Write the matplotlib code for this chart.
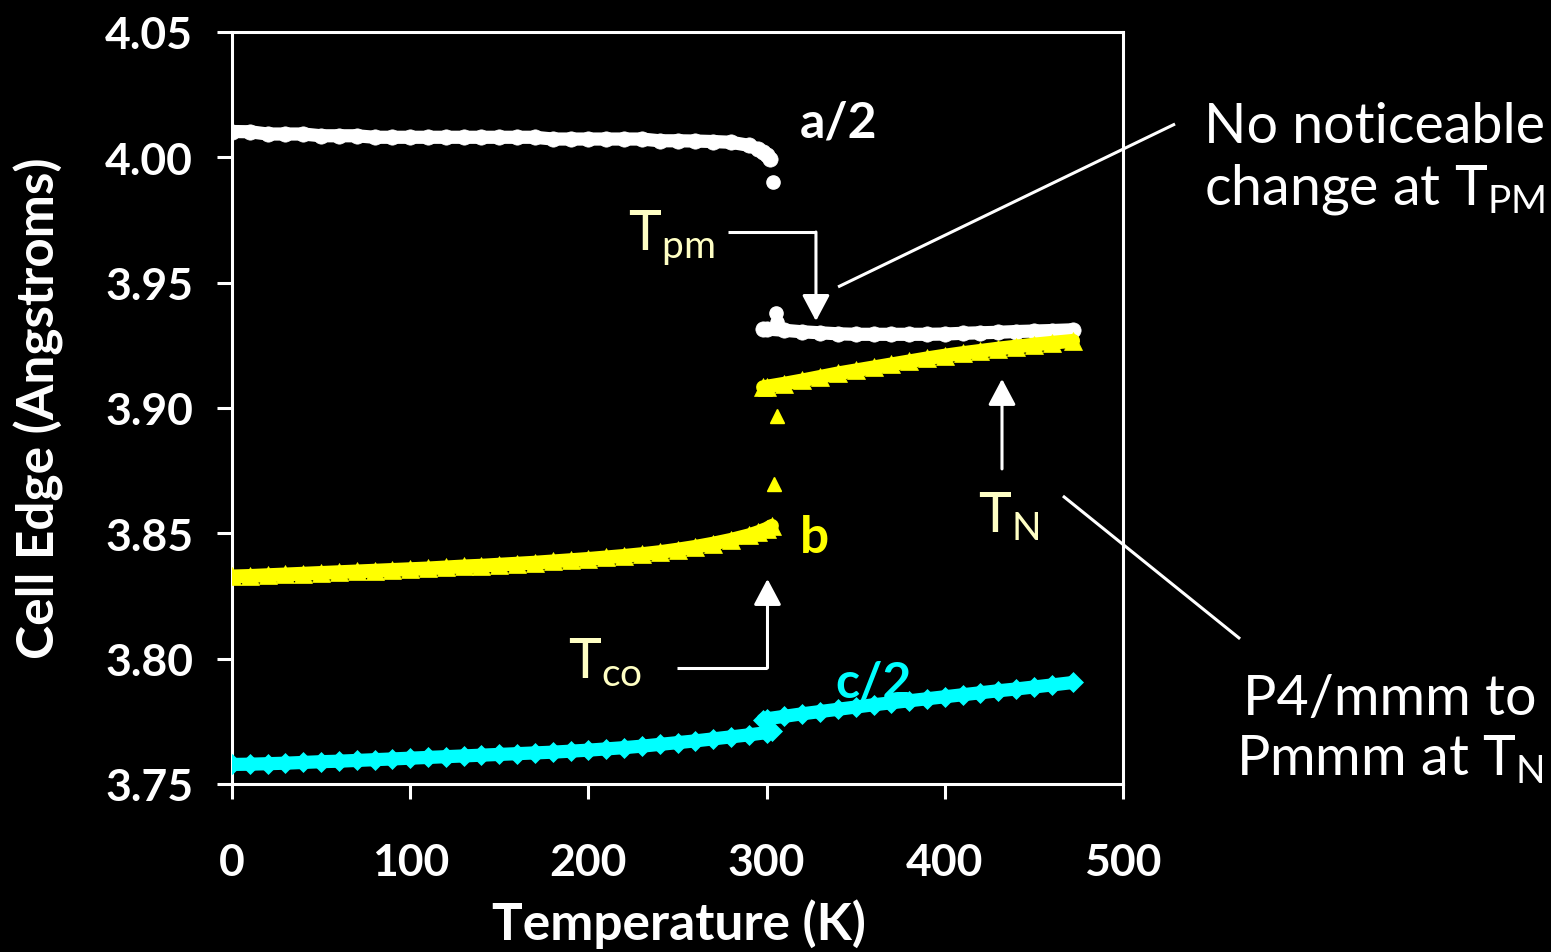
import matplotlib
matplotlib.use("Agg")
import matplotlib.pyplot as plt
import numpy as np

plt.rcParams['font.family'] = ['Lato', 'DejaVu Sans']
plt.rcParams['mathtext.fontset'] = 'custom'
plt.rcParams['mathtext.rm'] = 'Lato'
plt.rcParams['mathtext.default'] = 'regular'

# ---- lattice parameters vs temperature ----
# a/2, low-temperature phase
a_lo_T = [0, 10, 20, 30, 40, 50, 60, 70, 80, 90, 100, 110, 120, 130, 140, 150,
          160, 170, 180, 190, 200, 210, 220, 230, 240, 250, 260, 270, 280, 290,
          295, 298, 300, 302]
a_lo = [4.0103, 4.0102, 4.0093, 4.0093, 4.0093, 4.0086, 4.0086, 4.0086, 4.0080,
        4.0080, 4.0080, 4.0080, 4.0080, 4.0080, 4.0080, 4.0080, 4.0080, 4.0080,
        4.0073, 4.0073, 4.0073, 4.0073, 4.0073, 4.0073, 4.0066, 4.0066, 4.0065,
        4.0063, 4.0060, 4.0048, 4.0033, 4.0020, 4.0008, 3.9995]
# a/2, high-temperature phase
a_hi_T = [298, 300, 310, 320, 330, 340, 350, 360, 370, 380, 390, 400, 410, 420,
          430, 440, 450, 460, 472]
a_hi = [3.9315, 3.9315, 3.9310, 3.9304, 3.9300, 3.9296, 3.9294, 3.9294, 3.9294,
        3.9294, 3.9294, 3.9295, 3.9298, 3.9300, 3.9302, 3.9305, 3.9307, 3.9309,
        3.9312]
# isolated a/2 points in the transition region
a_tr_T = [303.5, 305.5, 306.0]
a_tr = [3.9903, 3.9378, 3.9345]

# b, low-temperature phase
b_lo_T = [0, 10, 20, 30, 40, 50, 60, 70, 80, 90, 100, 110, 120, 130, 140, 150,
          160, 170, 180, 190, 200, 210, 220, 230, 240, 250, 260, 270, 280, 290,
          295, 300, 303]
b_lo = [3.8328, 3.8330, 3.8333, 3.8336, 3.8339, 3.8342, 3.8345, 3.8348, 3.8351,
        3.8354, 3.8357, 3.8360, 3.8364, 3.8368, 3.8371, 3.8375, 3.8379, 3.8383,
        3.8388, 3.8393, 3.8398, 3.8404, 3.8410, 3.8417, 3.8425, 3.8435, 3.8446,
        3.8459, 3.8474, 3.8492, 3.8504, 3.8518, 3.8530]
# b, high-temperature phase
b_hi_T = [298, 300, 310, 320, 330, 340, 350, 360, 370, 380, 390, 400, 410, 420,
          430, 440, 450, 460, 472]
b_hi = [3.9083, 3.9085, 3.9097, 3.9110, 3.9124, 3.9138, 3.9150, 3.9162, 3.9174,
        3.9186, 3.9198, 3.9209, 3.9219, 3.9228, 3.9237, 3.9245, 3.9253, 3.9260,
        3.9268]
# isolated b points in the transition region
b_tr_T = [304.3, 305.6]
b_tr = [3.8697, 3.8969]

# c/2, low-temperature phase
c_lo_T = [0, 10, 20, 30, 40, 50, 60, 70, 80, 90, 100, 110, 120, 130, 140, 150,
          160, 170, 180, 190, 200, 210, 220, 230, 240, 250, 260, 270, 280, 290,
          300, 303]
c_lo = [3.7578, 3.7579, 3.7581, 3.7583, 3.7586, 3.7589, 3.7591, 3.7594, 3.7597,
        3.7600, 3.7603, 3.7606, 3.7609, 3.7612, 3.7615, 3.7618, 3.7621, 3.7624,
        3.7627, 3.7631, 3.7635, 3.7640, 3.7645, 3.7651, 3.7658, 3.7665, 3.7672,
        3.7680, 3.7688, 3.7696, 3.7705, 3.7710]
# c/2, high-temperature phase
c_hi_T = [298, 300, 310, 320, 330, 340, 350, 360, 370, 380, 390, 400, 410, 420,
          430, 440, 450, 460, 472]
c_hi = [3.7757, 3.7760, 3.7770, 3.7780, 3.7789, 3.7798, 3.7807, 3.7816, 3.7824,
        3.7832, 3.7840, 3.7848, 3.7856, 3.7864, 3.7872, 3.7879, 3.7887, 3.7895,
        3.7905]

x_ticks = [0, 100, 200, 300, 400, 500]
y_ticks = [3.75, 3.80, 3.85, 3.90, 3.95, 4.00, 4.05]

WHITE = '#FFFFFF'
YELLOW = '#FFFF00'
CYAN = '#00FFFF'
PALE = '#FFFFC4'

fig = plt.figure(figsize=(15.51, 9.53), dpi=100, facecolor='black')
ax = fig.add_axes([232 / 1551, 1 - 785 / 953, 891 / 1551, 752 / 953])
ax.set_facecolor('black')

# series: thick connecting line + dense markers
def series(T, v, color, marker, ms, lw):
    ax.plot(T, v, color=color, lw=lw, solid_capstyle='round',
            solid_joinstyle='round', zorder=3)
    ax.plot(T, v, linestyle='none', marker=marker, ms=ms, color=color,
            markeredgecolor=color, markeredgewidth=0.5, zorder=3)

series(a_lo_T, a_lo, WHITE, 'o', 11, 9.5)
series(a_hi_T, a_hi, WHITE, 'o', 11, 9.5)
ax.plot(a_tr_T, a_tr, linestyle='none', marker='o', ms=9.5, color=WHITE, zorder=3)

series(b_lo_T, b_lo, YELLOW, '^', 13, 10)
series(b_hi_T, b_hi, YELLOW, '^', 13, 10)
ax.plot(b_tr_T, b_tr, linestyle='none', marker='^', ms=10, color=YELLOW, zorder=3)

series(c_lo_T, c_lo, CYAN, 'D', 10, 9.5)
series(c_hi_T, c_hi, CYAN, 'D', 10, 9.5)

ax.set_xlim(0, 500)
ax.set_ylim(3.75, 4.05)
ax.set_xticks(x_ticks)
ax.set_yticks(y_ticks)
ax.set_xticklabels([str(t) for t in x_ticks])
ax.set_yticklabels(['%.2f' % t for t in y_ticks])

for s in ax.spines.values():
    s.set_color(WHITE)
    s.set_linewidth(2.2)
ax.tick_params(axis='both', colors=WHITE, direction='out', length=11, width=2.2)
ax.tick_params(axis='x', pad=31)
ax.tick_params(axis='y', pad=17)
for lab in ax.get_xticklabels() + ax.get_yticklabels():
    lab.set_fontsize(32)
    lab.set_fontweight('bold')
    lab.set_color(WHITE)

fig.text(679 / 1551, 1 - 940 / 953, 'Temperature (K)', color=WHITE,
         fontsize=37, fontweight='bold', ha='center', va='baseline')
fig.text(39 / 1551, 1 - 408 / 953, 'Cell Edge (Angstroms)', color=WHITE,
         fontsize=37, fontweight='bold', ha='center', va='center', rotation=90)

# series labels
ax.text(318.7, 4.0085, 'a/2', color=WHITE, fontsize=36, fontweight='bold',
        ha='left', va='baseline')
ax.text(318.7, 3.8426, 'b', color=YELLOW, fontsize=37, fontweight='bold',
        ha='left', va='baseline')
ax.text(338.4, 3.7851, 'c/2', color=CYAN, fontsize=36, fontweight='bold',
        ha='left', va='baseline')

# transition temperature labels
ax.text(222.2, 3.9634, r'T$_{pm}$', color=PALE, fontsize=40, ha='left', va='baseline')
ax.text(188.6, 3.7927, r'T$_{co}$', color=PALE, fontsize=40, ha='left', va='baseline')
ax.text(418.6, 3.8510, r'T$_{N}$', color=PALE, fontsize=40, ha='left', va='baseline')

# arrows
line_kw = dict(color=WHITE, lw=2.2, solid_capstyle='butt')
arrow_kw = dict(arrowstyle='-|>,head_length=1.6,head_width=0.85', color=WHITE,
                lw=2.2, shrinkA=0, shrinkB=0)

ax.plot([278.3, 327.7], [3.9702, 3.9702], **line_kw)
ax.annotate('', xy=(327.7, 3.9347), xytext=(327.7, 3.9702), arrowprops=arrow_kw)

ax.plot([249.7, 300.5], [3.7963, 3.7963], **line_kw)
ax.annotate('', xy=(300.5, 3.8318), xytext=(300.5, 3.7963), arrowprops=arrow_kw)

ax.annotate('', xy=(432.1, 3.9116), xytext=(432.1, 3.8757), arrowprops=arrow_kw)

# callout lines
ax.plot([340.1, 529.2], [3.9483, 4.0133], clip_on=False, **line_kw)
ax.plot([466.3, 565.7], [3.8649, 3.8079], clip_on=False, **line_kw)

# callout texts
fig.text(1375 / 1551, 1 - 143 / 953, 'No noticeable', color=WHITE, fontsize=40,
         ha='center', va='baseline')
fig.text(1375 / 1551, 1 - 205 / 953, r'change at T$_{PM}$', color=WHITE, fontsize=40,
         ha='center', va='baseline')
fig.text(1390 / 1551, 1 - 715 / 953, 'P4/mmm to', color=WHITE, fontsize=40,
         ha='center', va='baseline')
fig.text(1390 / 1551, 1 - 775 / 953, r'Pmmm at T$_{N}$', color=WHITE, fontsize=40,
         ha='center', va='baseline')

fig.savefig('out.png', dpi=100, facecolor='black')
